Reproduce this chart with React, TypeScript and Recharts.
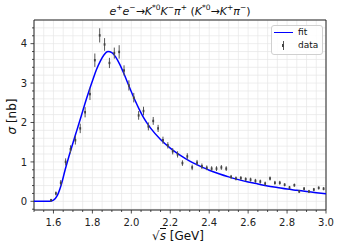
import React from "react";
import {
  ComposedChart,
  Line,
  Scatter,
  ErrorBar,
  XAxis,
  YAxis,
  CartesianGrid,
  ReferenceArea,
} from "recharts";

// measured points (centre of each 25 MeV bin)
const energy = [
  1.5875, 1.6125, 1.6375, 1.6625, 1.6875, 1.7125, 1.7375, 1.7625, 1.7875, 1.8125,
  1.8375, 1.8625, 1.8875, 1.9125, 1.9375, 1.9625, 1.9875, 2.0125, 2.0375, 2.0625,
  2.0875, 2.1125, 2.1375, 2.1625, 2.1875, 2.2125, 2.2375, 2.2625, 2.2875, 2.3125,
  2.3375, 2.3625, 2.3875, 2.4125, 2.4375, 2.4625, 2.4875, 2.5125, 2.5375, 2.5625,
  2.5875, 2.6125, 2.6375, 2.6625, 2.6875, 2.7125, 2.7375, 2.7625, 2.7875, 2.8125,
  2.8375, 2.8625, 2.8875, 2.9125, 2.9375, 2.9625, 2.9875,
];
const sigma = [
  0.03, 0.2, 0.47, 1.0, 1.32, 1.55, 1.85, 2.26, 2.72, 3.58,
  4.21, 3.98, 3.51, 3.76, 3.79, 3.32, 2.94, 2.63, 2.18, 2.29,
  1.9, 2.04, 1.85, 1.55, 1.42, 1.27, 1.19, 0.97, 1.14, 0.86,
  0.98, 0.89, 0.85, 0.83, 0.83, 0.86, 0.83, 0.62, 0.58, 0.59,
  0.56, 0.55, 0.52, 0.5, 0.45, 0.58, 0.47, 0.47, 0.42, 0.35,
  0.41, 0.25, 0.32, 0.25, 0.3, 0.34, 0.32,
];
const sigmaErr = [
  0.03, 0.05, 0.07, 0.09, 0.1, 0.11, 0.12, 0.13, 0.15, 0.17,
  0.18, 0.16, 0.13, 0.14, 0.17, 0.13, 0.13, 0.12, 0.11, 0.11,
  0.1, 0.1, 0.09, 0.09, 0.08, 0.08, 0.08, 0.07, 0.08, 0.07,
  0.07, 0.07, 0.06, 0.06, 0.06, 0.06, 0.06, 0.05, 0.05, 0.05,
  0.05, 0.05, 0.05, 0.05, 0.05, 0.05, 0.05, 0.05, 0.04, 0.04,
  0.04, 0.04, 0.04, 0.04, 0.04, 0.04, 0.04,
];

// fit curve
const fitEnergy = [
  1.5, 1.55, 1.58, 1.6, 1.62, 1.64, 1.66, 1.68, 1.7, 1.72, 1.74, 1.76, 1.78, 1.8,
  1.82, 1.84, 1.86, 1.88, 1.9, 1.92, 1.94, 1.96, 1.98, 2.0, 2.02, 2.04, 2.06, 2.08,
  2.1, 2.15, 2.2, 2.25, 2.3, 2.35, 2.4, 2.45, 2.5, 2.55, 2.6, 2.65, 2.7, 2.75, 2.8,
  2.85, 2.9, 2.95, 3.0,
];
const fitSigma = [
  0, 0, 0, 0.03, 0.15, 0.42, 0.8, 1.15, 1.48, 1.8, 2.12, 2.45, 2.76, 3.05,
  3.33, 3.55, 3.72, 3.8, 3.77, 3.66, 3.48, 3.26, 3.02, 2.78, 2.55, 2.34, 2.15, 1.99,
  1.85, 1.57, 1.35, 1.17, 1.02, 0.9, 0.79, 0.7, 0.62, 0.55, 0.49, 0.44, 0.39, 0.35, 0.31,
  0.28, 0.25, 0.22, 0.19,
];

const xTicks = [
  1.5, 1.55, 1.6, 1.65, 1.7, 1.75, 1.8, 1.85, 1.9, 1.95, 2.0, 2.05, 2.1, 2.15, 2.2,
  2.25, 2.3, 2.35, 2.4, 2.45, 2.5, 2.55, 2.6, 2.65, 2.7, 2.75, 2.8, 2.85, 2.9, 2.95, 3.0,
];
const xMajor = [1.6, 1.8, 2.0, 2.2, 2.4, 2.6, 2.8, 3.0];
const yTicks = [
  -0.2, 0, 0.2, 0.4, 0.6, 0.8, 1, 1.2, 1.4, 1.6, 1.8, 2, 2.2, 2.4, 2.6, 2.8, 3,
  3.2, 3.4, 3.6, 3.8, 4, 4.2, 4.4,
];
const yMajor = [0, 1, 2, 3, 4];

const points = energy.map((x, i) => ({ x, y: sigma[i], err: sigmaErr[i] }));
const fit = fitEnergy.map((x, i) => ({ x, y: fitSigma[i] }));

const FONT = "DejaVu Sans, sans-serif";
const isMajor = (v: number, list: number[]) => list.some((m) => Math.abs(m - v) < 1e-6);

const XTick = (props: any) => {
  const { x, y, payload } = props;
  const base = y - 6;
  const major = isMajor(payload.value, xMajor);
  return (
    <g>
      <line x1={x} x2={x} y1={base} y2={base + (major ? 3.5 : 2)} stroke="#222" strokeWidth={0.8} />
      {major && (
        <text x={x} y={base + 15.5} textAnchor="middle" fontSize={10} fontFamily={FONT} fill="#222">
          {payload.value.toFixed(1)}
        </text>
      )}
    </g>
  );
};

const YTick = (props: any) => {
  const { x, y, payload } = props;
  const base = x + 7;
  const major = isMajor(payload.value, yMajor);
  return (
    <g>
      <line x1={base} x2={base - (major ? 3.5 : 2)} y1={y} y2={y} stroke="#222" strokeWidth={0.8} />
      {major && (
        <text x={base - 7} y={y + 3.6} textAnchor="end" fontSize={10} fontFamily={FONT} fill="#222">
          {payload.value}
        </text>
      )}
    </g>
  );
};

const Dot = (props: any) => {
  const { cx, cy } = props;
  return <rect x={cx - 0.9} y={cy - 1.2} width={1.8} height={2.4} fill="#444" />;
};

const supStyle = { fontSize: 7.5, lineHeight: 0 };

export default function App() {
  return (
    <div style={{ position: "absolute", left: 0, top: 0, width: 341, height: 249, background: "#fff" }}>
      <ComposedChart width={341} height={249} margin={{ top: 20, right: 15, bottom: 0, left: 0 }}>
        <CartesianGrid stroke="#e6e6e6" strokeWidth={0.7} />
        <XAxis
          dataKey="x"
          type="number"
          domain={[1.5, 3.0]}
          allowDataOverflow
          ticks={xTicks}
          interval={0}
          tick={<XTick />}
          tickLine={false}
          tickSize={4}
          tickMargin={2}
          height={39}
          axisLine={false}
        />
        <YAxis
          type="number"
          domain={[-0.22, 4.6]}
          allowDataOverflow
          ticks={yTicks}
          interval={0}
          tick={<YTick />}
          tickLine={false}
          tickSize={4}
          tickMargin={3}
          width={34}
          axisLine={false}
        />
        <Line
          data={fit}
          dataKey="y"
          type="monotone"
          stroke="#0000ff"
          strokeWidth={1.5}
          dot={false}
          isAnimationActive={false}
        />
        <Scatter data={points} dataKey="y" shape={<Dot />} isAnimationActive={false}>
          <ErrorBar dataKey="err" direction="y" width={0} stroke="#555" strokeWidth={1} isAnimationActive={false} />
        </Scatter>
        <ReferenceArea x1={1.5} x2={3.0} y1={-0.22} y2={4.6} fill="none" stroke="#222" strokeWidth={1} ifOverflow="extendDomain" />
      </ComposedChart>

      <div
        style={{
          position: "absolute",
          left: 34,
          width: 292,
          top: 5,
          textAlign: "center",
          fontFamily: FONT,
          fontSize: 11,
          lineHeight: "13px",
          color: "#111",
          whiteSpace: "nowrap",
        }}
      >
        <i>e</i><sup style={supStyle}>+</sup>
        <i>e</i><sup style={supStyle}>−</sup>→
        <i>K</i><sup style={supStyle}>*0</sup>
        <i>K</i><sup style={supStyle}>−</sup>
        <i>π</i><sup style={supStyle}>+</sup> (
        <i>K</i><sup style={supStyle}>*0</sup>→
        <i>K</i><sup style={supStyle}>+</sup>
        <i>π</i><sup style={supStyle}>−</sup>)
      </div>

      <div
        style={{
          position: "absolute",
          left: -18,
          top: 109,
          width: 60,
          height: 15,
          textAlign: "center",
          transform: "rotate(-90deg)",
          fontFamily: FONT,
          fontSize: 12,
          lineHeight: "15px",
          color: "#111",
        }}
      >
        <i>σ</i> [nb]
      </div>

      <div
        style={{
          position: "absolute",
          left: 128,
          top: 229,
          width: 100,
          textAlign: "center",
          fontFamily: FONT,
          fontSize: 12,
          lineHeight: "15px",
          color: "#111",
        }}
      >
        √<span style={{ borderTop: "1px solid #111" }}><i>s</i></span> [GeV]
      </div>

      <div
        style={{
          position: "absolute",
          left: 271,
          top: 25,
          width: 50,
          height: 28,
          background: "rgba(255,255,255,0.85)",
          border: "1px solid #d0d0d0",
          borderRadius: 3,
          fontFamily: FONT,
          fontSize: 9,
          color: "#111",
        }}
      >
        <div style={{ position: "absolute", left: 2, top: 6, width: 19, height: 0, borderTop: "1.5px solid #0000ff" }} />
        <div style={{ position: "absolute", left: 26, top: 0, lineHeight: "13px" }}>fit</div>
        <div style={{ position: "absolute", left: 11, top: 15, width: 1, height: 9, background: "#555" }} />
        <div style={{ position: "absolute", left: 10, top: 18, width: 2, height: 3, background: "#444" }} />
        <div style={{ position: "absolute", left: 26, top: 13, lineHeight: "13px" }}>data</div>
      </div>
    </div>
  );
}
